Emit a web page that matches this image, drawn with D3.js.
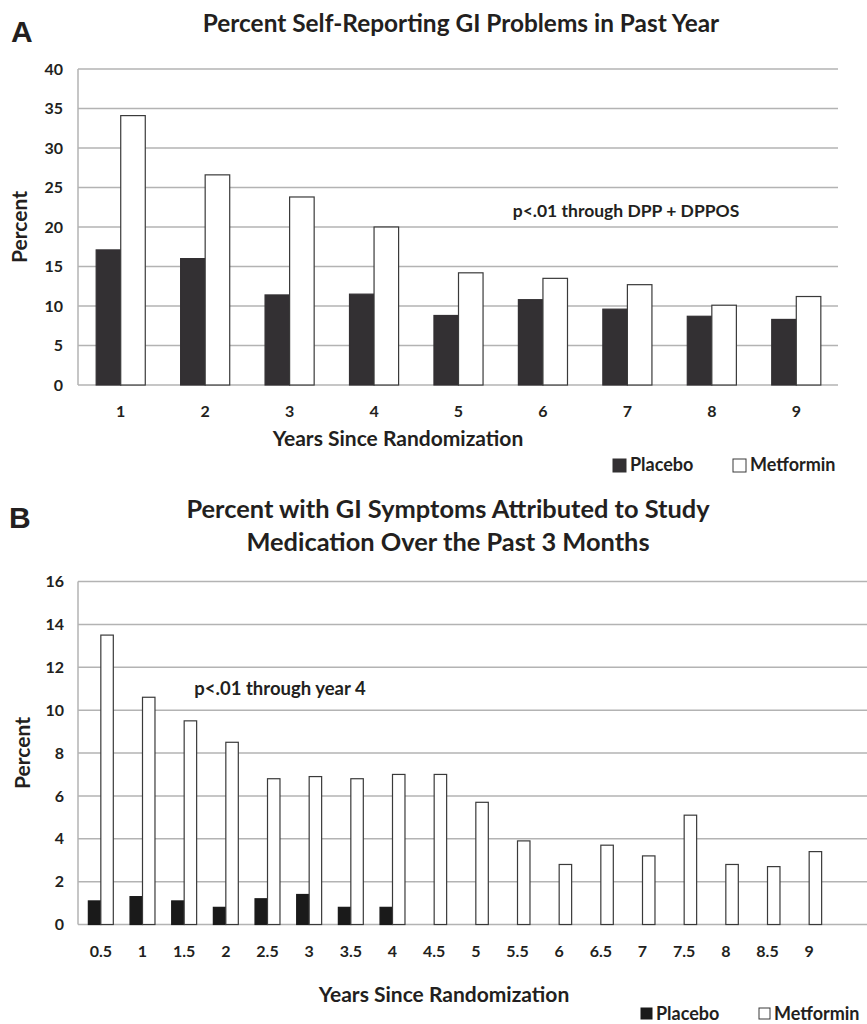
<!DOCTYPE html>
<html lang="en">
<head>
    <meta charset="UTF-8">
    <title>GI Problems - Placebo vs Metformin</title>
    <script src="https://cdn.jsdelivr.net/npm/d3@7"></script>
    <style>
        body { margin: 0; background: #fff; }
        svg text { font-family: Lato, "Open Sans", sans-serif; font-weight: bold; fill: #231f20; }
        .panel-letter { font-family: "Liberation Sans", Arial, sans-serif; }
    </style>
</head>
<body>
    <svg id="chart" width="867" height="1024"></svg>
    <script>
        // Panel A: percent self-reporting GI problems in past year
        const yearsA = ["1", "2", "3", "4", "5", "6", "7", "8", "9"];
        const placeboA = [17.1, 16.0, 11.4, 11.5, 8.8, 10.8, 9.6, 8.7, 8.3];
        const metforminA = [34.1, 26.6, 23.8, 20.0, 14.2, 13.5, 12.7, 10.1, 11.2];

        // Panel B: GI symptoms attributed to study medication, past 3 months
        const yearsB = ["0.5", "1", "1.5", "2", "2.5", "3", "3.5", "4", "4.5",
                        "5", "5.5", "6", "6.5", "7", "7.5", "8", "8.5", "9"];
        const placeboB = [1.1, 1.3, 1.1, 0.8, 1.2, 1.4, 0.8, 0.8, null,
                          null, null, null, null, null, null, null, null, null];
        const metforminB = [13.5, 10.6, 9.5, 8.5, 6.8, 6.9, 6.8, 7.0, 7.0,
                            5.7, 3.9, 2.8, 3.7, 3.2, 5.1, 2.8, 2.7, 3.4];

        const seriesNames = ["Placebo", "Metformin"];

        const svg = d3.select("#chart");

        function drawPanel(opt) {
            const g = svg.append("g");
            const y = d3.scaleLinear().domain([0, opt.yMax]).range([opt.bottom, opt.top]);
            const x0 = d3.scaleBand().domain(opt.cats).range(opt.bandRange);
            const x1 = d3.scaleBand().domain(seriesNames)
                .range([0, x0.bandwidth()]).paddingOuter(opt.barPad);

            // gridlines
            g.append("g")
                .selectAll("line")
                .data(y.ticks(8))
                .enter().append("line")
                .attr("x1", opt.left).attr("x2", opt.gridRight)
                .attr("y1", d => y(d)).attr("y2", d => y(d))
                .attr("stroke", "#b3b3b3").attr("stroke-width", 1.5);
            g.append("line")
                .attr("x1", opt.left).attr("x2", opt.left)
                .attr("y1", opt.top).attr("y2", opt.bottom)
                .attr("stroke", "#b3b3b3").attr("stroke-width", 1.5);

            // bars
            const rows = opt.cats.map((c, i) => ({ cat: c, vals: [
                { key: "Placebo", v: opt.placebo[i] },
                { key: "Metformin", v: opt.metformin[i] }
            ]}));
            const grp = g.selectAll(".grp").data(rows).enter().append("g")
                .attr("transform", d => `translate(${x0(d.cat)},0)`);
            grp.selectAll("rect")
                .data(d => d.vals.filter(v => v.v != null))
                .enter().append("rect")
                .attr("x", d => x1(d.key))
                .attr("width", x1.bandwidth())
                .attr("y", d => y(d.v))
                .attr("height", d => y(0) - y(d.v))
                .attr("fill", d => d.key === "Placebo" ? opt.darkFill : "#fff")
                .attr("stroke", d => d.key === "Placebo" ? opt.darkFill : "#3a3a3a")
                .attr("stroke-width", 1.2);

            // axes
            const yAxis = g.append("g")
                .attr("transform", `translate(${opt.left},0)`)
                .call(d3.axisLeft(y).ticks(8).tickSize(0).tickPadding(opt.yPad));
            yAxis.select(".domain").remove();
            yAxis.selectAll("text").attr("font-size", 16).attr("font-family", null);

            const xAxis = g.append("g")
                .attr("transform", `translate(0,${opt.bottom})`)
                .call(d3.axisBottom(x0).tickSize(0).tickPadding(21));
            xAxis.select(".domain").remove();
            xAxis.selectAll("text").attr("font-size", 16).attr("font-family", null);

            // titles
            opt.title.forEach((t, i) => {
                g.append("text").attr("x", opt.titleX).attr("y", opt.titleY + i * 33)
                    .attr("text-anchor", "middle").attr("font-size", opt.titleSize).text(t);
            });
            g.append("text").attr("class", "panel-letter")
                .attr("x", opt.letterX).attr("y", opt.letterY)
                .attr("font-size", 30).text(opt.letter);

            g.append("text")
                .attr("transform", `translate(${opt.yTitleX},${(opt.top + opt.bottom) / 2 + opt.yTitleShift}) rotate(-90)`)
                .attr("text-anchor", "middle").attr("font-size", 21).text("Percent");
            g.append("text").attr("x", opt.xTitleX).attr("y", opt.xTitleY)
                .attr("text-anchor", "middle").attr("font-size", 21).text("Years Since Randomization");

            g.append("text").attr("x", opt.noteX).attr("y", opt.noteY)
                .attr("text-anchor", "middle").attr("font-size", opt.noteSize).text(opt.note);

            // legend
            const leg = g.append("g").attr("transform", `translate(${opt.legX},${opt.legY})`);
            seriesNames.forEach((s, i) => {
                const lx = i * opt.legGap;
                leg.append("rect").attr("x", lx).attr("y", -12)
                    .attr("width", opt.legBox).attr("height", opt.legBox)
                    .attr("fill", i === 0 ? opt.darkFill : "#fff")
                    .attr("stroke", i === 0 ? opt.darkFill : "#3a3a3a").attr("stroke-width", 1);
                leg.append("text").attr("x", lx + opt.legBox + 4).attr("y", 0)
                    .attr("font-size", 18).text(s);
            });
        }

        drawPanel({
            cats: yearsA, placebo: placeboA, metformin: metforminA,
            yMax: 40, top: 69, bottom: 385, left: 78, gridRight: 838,
            bandRange: [78.5, 838.5], barPad: 0.72, darkFill: "#333033", yPad: 15,
            title: ["Percent Self-Reporting GI Problems in Past Year"],
            titleX: 461, titleY: 32, titleSize: 24.4,
            letter: "A", letterX: 11, letterY: 42,
            yTitleX: 27, yTitleShift: 0,
            xTitleX: 398, xTitleY: 446,
            note: "p<.01 through DPP + DPPOS", noteX: 626, noteY: 217, noteSize: 17.5,
            legX: 613, legY: 471, legBox: 13, legGap: 120
        });

        drawPanel({
            cats: yearsB, placebo: placeboB, metformin: metforminB,
            yMax: 16, top: 581.5, bottom: 924.5, left: 78, gridRight: 867,
            bandRange: [80, 830], barPad: 0.67, darkFill: "#1a1a1a", yPad: 14,
            title: ["Percent with GI Symptoms Attributed to Study", "Medication Over the Past 3 Months"],
            titleX: 448, titleY: 518, titleSize: 25.4,
            letter: "B", letterX: 9, letterY: 528,
            yTitleX: 30, yTitleShift: 0,
            xTitleX: 444, xTitleY: 1002,
            note: "p<.01 through year 4", noteX: 280, noteY: 695, noteSize: 18.5,
            legX: 641, legY: 1020, legBox: 11, legGap: 118
        });
    </script>
</body>
</html>
